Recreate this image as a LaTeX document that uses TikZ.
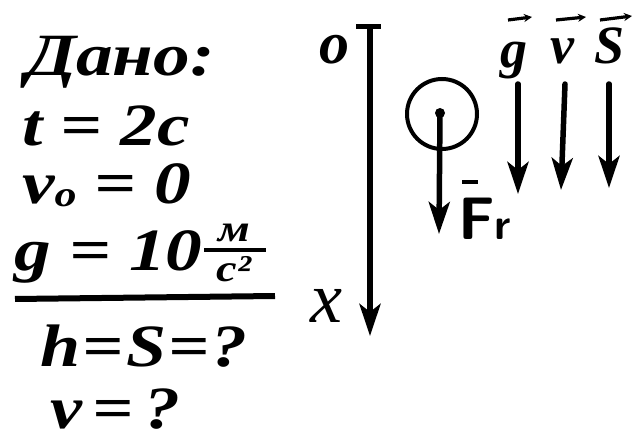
\documentclass[tikz,border=0pt]{standalone}
\usepackage{fontspec}
\setmainfont{Liberation Serif}
\usetikzlibrary{arrows.meta}
\newcommand{\wide}[1]{\scalebox{1.22}[1]{#1}}
\tikzset{
  hand/.style={font=\bfseries\itshape\fontsize{60}{60}\selectfont, inner sep=0pt, anchor=base west},
  small/.style={font=\bfseries\itshape\fontsize{38}{38}\selectfont, inner sep=0pt},
  pen/.style={line width=5.5pt, line cap=round},
  vec/.style={pen, -{Stealth[length=32pt,width=21pt,inset=8pt]}},
  bar/.style={line width=3.2pt, -{Stealth[length=8pt,width=8pt]}}
}
\begin{document}
\begin{tikzpicture}[x=1pt,y=-1pt]
\useasboundingbox[fill=white] (0,0) rectangle (638,441);
% given data
\node[hand] (dano) at (26,76) {\wide{Дано:}};
\node[hand] (t) at (22,146) {\wide{t = 2с}};
\node[hand] (v0) at (22,204) {\wide{v\raisebox{-3pt}{\fontsize{36}{36}\selectfont о} = 0}};
\node[hand] (g) at (14,270) {\wide{g = 10}};
\node[small, anchor=base] (m) at (234,242) {\wide{м}};
\node[small, anchor=base] (c2) at (234,282) {\wide{с²}};
\coordinate (fl) at (204,250);
\coordinate (fr) at (266,250);
\draw[line width=3.6pt] (fl) -- (fr);
\coordinate (ll) at (15,299);
\coordinate (lr) at (275,296);
\draw[line width=6pt] (ll) -- (lr);
\node[hand] (h) at (40,366) {\scalebox{1.2}[1]{h\kern2pt=\kern2pt S\kern2pt=\kern2pt?}};
\node[hand] (v) at (50,428) {\scalebox{1.2}[1]{v\kern9pt=\kern9pt?}};
% axis
\node[font=\bfseries\itshape\fontsize{60}{60}\selectfont, inner sep=0pt] (o) at (334,50) {o};
\node[font=\itshape\fontsize{72}{72}\selectfont, inner sep=0pt] (X) at (326,306) {x};
\coordinate (ot) at (370,28);
\coordinate (ox) at (370,336);
\coordinate (tl) at (356,27);
\coordinate (tr) at (381,27);
\draw[line width=5pt] (tl) -- (tr);
\draw[vec] (ot) -- (ox);
% body
\node[circle, draw, line width=4pt, minimum size=70pt, inner sep=0pt] (ball) at (442,114) {};
\coordinate (bc) at (440,113);
\fill (bc) circle (5pt);
\coordinate (fe) at (439,234);
\draw[vec] (bc) -- (fe);
\node[font=\sffamily\bfseries\fontsize{60}{60}\selectfont, inner sep=0pt, anchor=base west] (F) at (458,240) {F\fontsize{44}{44}\selectfont r};
\coordinate (fb1) at (462,182);
\coordinate (fb2) at (478,182);
\draw[line width=4pt] (fb1) -- (fb2);
% vectors
\node[hand, font=\bfseries\itshape\fontsize{54}{54}\selectfont] (gl) at (500,68) {g};
\node[hand, font=\bfseries\itshape\fontsize{54}{54}\selectfont] (vl) at (550,64) {v};
\node[hand, font=\bfseries\itshape\fontsize{54}{54}\selectfont] (sl) at (594,64) {S};
\coordinate (g1) at (508,20); \coordinate (g2) at (532,17);
\coordinate (v1) at (556,20); \coordinate (v2) at (586,17);
\coordinate (s1) at (600,20); \coordinate (s2) at (632,16);
\draw[bar] (g1) -- (g2);
\draw[bar] (v1) -- (v2);
\draw[bar] (s1) -- (s2);
\coordinate (ga) at (518,84); \coordinate (gb) at (518,194);
\coordinate (va) at (565,84); \coordinate (vb) at (561,190);
\coordinate (sa) at (609,84); \coordinate (sb) at (609,188);
\draw[vec] (ga) -- (gb);
\draw[vec] (va) -- (vb);
\draw[vec] (sa) -- (sb);
\end{tikzpicture}
\end{document}
